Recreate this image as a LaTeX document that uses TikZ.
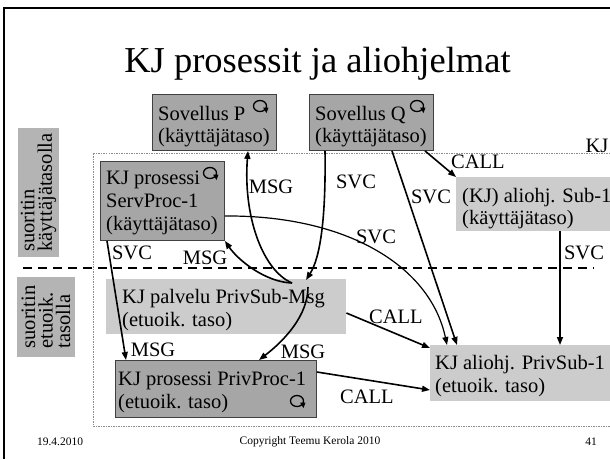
\documentclass[tikz,border=0pt]{standalone}
\usepackage{fontspec}
\setmainfont{Liberation Serif}
\usetikzlibrary{arrows.meta}
\definecolor{darkfill}{RGB}{166,166,166}
\definecolor{lightfill}{RGB}{204,204,204}
\definecolor{sidefill}{RGB}{180,180,180}
\begin{document}
\begin{tikzpicture}[x=1pt,y=-1pt,
  dbox/.style={draw=black!75, line width=0.9pt, fill=darkfill, inner sep=0pt, anchor=north west},
  lbox/.style={fill=lightfill, inner sep=0pt, anchor=north west},
  sidebox/.style={fill=sidefill, rotate=90, align=left, inner sep=1pt,
     font=\fontsize{20.5}{17.5}\selectfont},
  txt/.style={font=\fontsize{20.5}{22}\selectfont, inner sep=0pt, anchor=base west},
  lab/.style={font=\fontsize{20.5}{22}\selectfont, inner sep=0pt},
  foot/.style={font=\fontsize{11.5}{13}\selectfont, inner sep=0pt},
  conn/.style={line width=1.6pt, -{Triangle[length=8pt,width=6pt]}},
  thinconn/.style={conn, line width=1.2pt},
  loopic/.pic={\draw[line width=1.3pt] (0,0) ellipse[x radius=6.5, y radius=5.5];
      \fill (3,1.5) -- (8.5,1.5) -- (6.5,7) -- cycle;}
]
\useasboundingbox (0,0) rectangle (610,459);
% frame
\draw[line width=2.5pt] (610,8) -- (4,8) -- (4,459);
% title
\node[font=\fontsize{36.5}{40}\selectfont, inner sep=0pt, anchor=base] (title) at (317.5,72) {KJ prosessit ja aliohjelmat};
% KJ region
\draw[black!45, line width=0.7pt, dash pattern=on 1.5pt off 1pt] (610,153) -- (93,153) -- (93,426) -- (610,426);
\node[lab, anchor=base] (kj) at (597,152) {KJ};
% dashed level line
\coordinate (d1) at (23,268);
\coordinate (d2) at (594,268);
\draw[line width=1.8pt, dash pattern=on 9pt off 6pt] (d1) -- (d2);
% side labels
\node[sidebox, minimum width=129pt, minimum height=41pt] (side1) at (38.5,192.5) {suoritin\\käyttäjätasolla};
\node[sidebox, minimum width=80pt, minimum height=58pt] (side2) at (46,317) {suoritin\\etuoik.\\tasolla};
% boxes
\node[dbox, minimum width=124pt, minimum height=56pt] (P) at (152,94) {};
\node[dbox, minimum width=124pt, minimum height=56pt] (Q) at (309,94) {};
\node[dbox, minimum width=124pt, minimum height=79pt] (SP) at (100,161) {};
\node[lbox, minimum width=154pt, minimum height=54pt] (S1) at (456,177) {};
\node[lbox, minimum width=240pt, minimum height=55pt] (PSM) at (106,279) {};
\node[dbox, minimum width=201pt, minimum height=57pt] (PP) at (115,360) {};
\node[lbox, minimum width=180pt, minimum height=56pt] (PS1) at (430,345) {};
% box texts
\node[txt] (Pa) at (158,120) {Sovellus P};
\node[txt] (Pb) at (158,142) {(käyttäjätaso)};
\node[txt] (Qa) at (315,120) {Sovellus Q};
\node[txt] (Qb) at (315,142) {(käyttäjätaso)};
\node[txt] (SPa) at (106,184) {KJ prosessi};
\node[txt] (SPb) at (106,207) {ServProc-1};
\node[txt] (SPc) at (106,230) {(käyttäjätaso)};
\node[txt] (S1a) at (462,202) {(KJ) aliohj. Sub-1};
\node[txt] (S1b) at (462,224) {(käyttäjätaso)};
\node[txt] (PSMa) at (122,303) {KJ palvelu PrivSub-Msg};
\node[txt] (PSMb) at (122,326) {(etuoik. taso)};
\node[txt] (PPa) at (118,385) {KJ prosessi PrivProc-1};
\node[txt] (PPb) at (118,408) {(etuoik. taso)};
\node[txt] (PS1a) at (435,369) {KJ aliohj. PrivSub-1};
\node[txt] (PS1b) at (435,392) {(etuoik. taso)};
% loop icons
\pic at (260,106) {loopic};
\pic at (417,106) {loopic};
\pic at (210,173) {loopic};
\pic at (297,401) {loopic};
% junction
\coordinate (J) at (292,283);
\coordinate (Jin) at (306,280);
\coordinate (Jout) at (308,287);
% connectors
\draw[conn] (J) .. controls (262,270) and (243,215) .. ([xshift=96pt]P.south west);
\draw[conn] (J) .. controls (265,282) and (238,260) .. (SP.south east);
\draw[conn] ([xshift=16pt]Q.south west) .. controls (326,220) and (320,258) .. (Jin);
\draw[conn] (Jout) .. controls (308,315) and (285,340) .. ([xshift=144pt]PP.north west);
\draw[thinconn] ([yshift=-55pt]SP.north east) .. controls (345,215) and (430,265) .. ([xshift=17pt]PS1.north west);
\draw[conn] ([xshift=83pt]Q.south west) -- ([xshift=27pt]PS1.north west);
\draw[conn] ([xshift=116pt]Q.south west) -- (S1.north west);
\draw[conn] ([xshift=104pt]S1.south west) -- ([xshift=130pt]PS1.north west);
\draw[conn] ([yshift=-34pt]PSM.north east) -- ([yshift=-3pt]PS1.north west);
\draw[conn] ([yshift=-12pt]PP.north east) -- ([yshift=-45pt]PS1.north west);
\draw[conn] ([xshift=7pt]SP.south west) -- ([xshift=11pt]PP.north west);
% connector labels
\node[lab] (m1) at (271,187) {MSG};
\node[lab] (s1) at (356,182) {SVC};
\node[lab] (s2) at (431,197) {SVC};
\node[lab] (c1) at (478,162) {CALL};
\node[lab] (s3) at (376,237) {SVC};
\node[lab] (s4) at (132,253) {SVC};
\node[lab] (m2) at (205,258) {MSG};
\node[lab] (s5) at (584,253) {SVC};
\node[lab] (c2) at (396,317) {CALL};
\node[lab] (m3) at (153,350) {MSG};
\node[lab] (m4) at (303,352) {MSG};
\node[lab] (c3) at (367,397) {CALL};
% footer
\node[foot] (date) at (60,442) {19.4.2010};
\node[foot] (copy) at (310,442) {Copyright Teemu Kerola 2010};
\node[foot] (num) at (591,442) {41};
\end{tikzpicture}
\end{document}
